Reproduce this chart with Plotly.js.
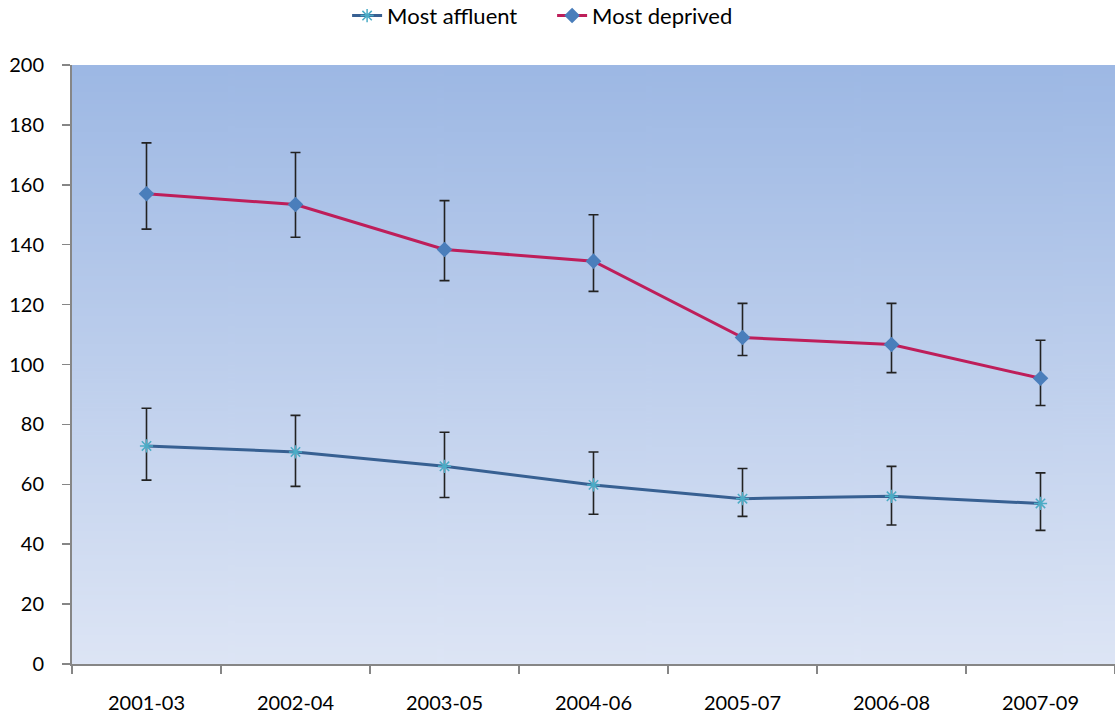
<!DOCTYPE html>
<html>
<head>
<meta charset="utf-8">
<script src="https://cdn.plot.ly/plotly-3.0.1.min.js"></script>
<style>
html,body{margin:0;padding:0;background:#fff;}
#chart{width:1115px;height:717px;}
</style>
</head>
<body>
<div id="chart"></div>
<script>
var categories = ["2001-03","2002-04","2003-05","2004-06","2005-07","2006-08","2007-09"];
var affluent      = [72.8, 70.8, 66.0, 59.8, 55.2, 56.0, 53.6];
var affluentUpper = [85.4, 83.0, 77.4, 70.8, 65.3, 66.0, 63.8];
var affluentLower = [61.4, 59.3, 55.6, 50.0, 49.3, 46.4, 44.6];
var deprived      = [157.0, 153.4, 138.4, 134.5, 109.0, 106.7, 95.4];
var deprivedUpper = [174.0, 170.8, 154.7, 150.0, 120.4, 120.4, 108.1];
var deprivedLower = [145.2, 142.5, 128.0, 124.4, 103.0, 97.3, 86.3];

function plus(up, v){ return up.map(function(u,i){ return u - v[i]; }); }
function minus(lo, v){ return lo.map(function(l,i){ return v[i] - l; }); }

var cv = document.createElement('canvas');
cv.width = 10; cv.height = 300;
var ctx = cv.getContext('2d');
var g = ctx.createLinearGradient(0,0,0,300);
g.addColorStop(0,'#9db8e4');
g.addColorStop(1,'#dde5f5');
ctx.fillStyle = g; ctx.fillRect(0,0,10,300);
var bg = cv.toDataURL();

var errStyle = {type:'data', symmetric:false, color:'#222', thickness:1.6, width:5};

var traces = [
  {
    name:'Most affluent', x:categories, y:affluent, type:'scatter', mode:'lines+markers',
    line:{color:'#376092', width:3},
    marker:{symbol:'asterisk-open', size:11, color:'#4bacc6', line:{width:1.5, color:'#4bacc6'}},
    error_y:Object.assign({array:plus(affluentUpper,affluent), arrayminus:minus(affluentLower,affluent)}, errStyle)
  },
  {
    name:'Most deprived', x:categories, y:deprived, type:'scatter', mode:'lines+markers',
    line:{color:'#be1e5a', width:3},
    marker:{symbol:'diamond', size:12, color:'#4a7ebb'},
    error_y:Object.assign({array:plus(deprivedUpper,deprived), arrayminus:minus(deprivedLower,deprived)}, errStyle)
  }
];

var layout = {
  width:1115, height:717,
  margin:{l:72, r:0, t:65, b:53},
  paper_bgcolor:'#fff', plot_bgcolor:'rgba(0,0,0,0)',
  font:{family:'Lato, "Open Sans", sans-serif', size:20, color:'#000'},
  showlegend:true,
  legend:{orientation:'h', xref:'container', yref:'container', x:0.3113, xanchor:'left', y:0.978, yanchor:'middle',
          font:{size:22}, itemwidth:30, entrywidth:160, entrywidthmode:'pixels', tracegroupgap:0, bgcolor:'rgba(0,0,0,0)'},
  images:[{source:bg, xref:'paper', yref:'paper', x:0, y:1, sizex:1, sizey:1, sizing:'stretch', layer:'below', xanchor:'left', yanchor:'top'}],
  xaxis:{type:'category', range:[-0.5,6.5], showline:true, linecolor:'#868686', linewidth:2,
         ticks:'outside', ticklen:8, tickcolor:'#868686', tickwidth:1.5, tickson:'boundaries',
         showgrid:false, zeroline:false, ticklabelstandoff:20, fixedrange:true},
  yaxis:{range:[0,200], dtick:20, showline:true, linecolor:'#868686', linewidth:2,
         ticks:'outside', ticklen:8, tickcolor:'#868686', tickwidth:1.5,
         showgrid:false, zeroline:false, ticklabelstandoff:14, fixedrange:true}
};

Plotly.newPlot('chart', traces, layout, {displayModeBar:false, staticPlot:true});
</script>
</body>
</html>
